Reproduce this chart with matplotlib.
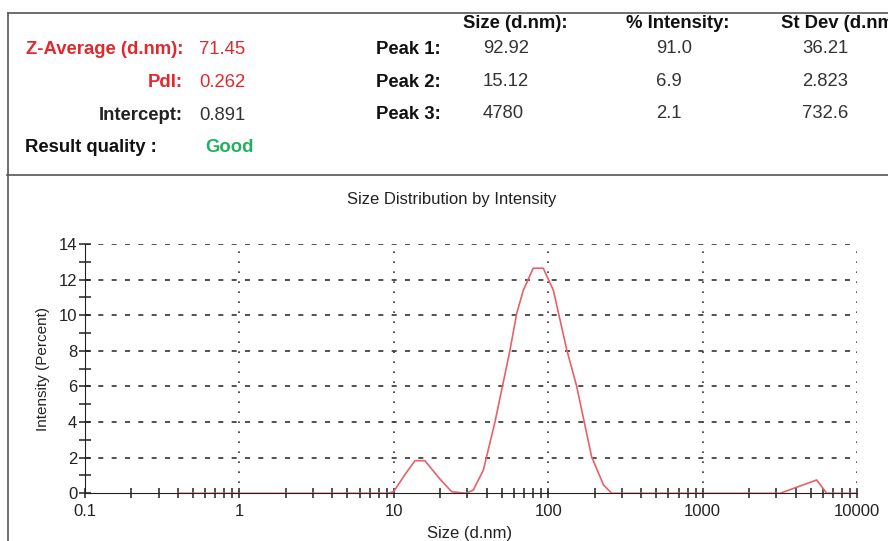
import matplotlib
matplotlib.use("Agg")
import matplotlib.pyplot as plt
from matplotlib.lines import Line2D
from matplotlib.ticker import LogLocator, FixedLocator, NullFormatter, FixedFormatter

plt.rcParams['font.family'] = ['Liberation Sans', 'DejaVu Sans']

# ---- data ----
size_nm = [0.4, 9.16, 9.97, 11.7, 13.7, 15.9, 19.9, 23.7, 29.4, 32.7, 38.0, 45.2,
           56.6, 62.5, 69.0, 80.0, 92.9, 108, 132, 153, 191, 228, 258,
           3177, 5480, 6360, 10000]
intensity = [0, 0, 0.09, 1.0, 1.83, 1.83, 0.8, 0.09, 0.0, 0.18, 1.3, 4.0,
             8.05, 10.1, 11.4, 12.64, 12.64, 11.4, 8.05, 6.0, 2.06, 0.47, 0,
             0, 0.75, 0, 0]

x_ticks = [0.1, 1, 10, 100, 1000, 10000]
x_tick_labels = ["0.1", "1", "10", "100", "1000", "10000"]
y_ticks = [0, 2, 4, 6, 8, 10, 12, 14]

peak_names = ["Peak 1:", "Peak 2:", "Peak 3:"]
peak_size = ["92.92", "15.12", "4780"]
peak_int = ["91.0", "6.9", "2.1"]
peak_sd = ["36.21", "2.823", "732.6"]
z_average = "71.45"
pdi = "0.262"
intercept = "0.891"
quality = "Good"

W, H = 888, 541
fig = plt.figure(figsize=(W / 100, H / 100), dpi=100)


def P(x, y):
    return (x / W, 1 - y / H)


RED = "#e0282e"
CURVE = "#e8606a"
fs = 13.3

# frame lines
frame_col = "#555555"
fig.add_artist(Line2D([8 / W, 1], [1 - 12.7 / H] * 2, color=frame_col, lw=1.2))
fig.add_artist(Line2D([8 / W] * 2, [1 - 12.7 / H, 0], color=frame_col, lw=1.2))
fig.add_artist(Line2D([7 / W, 1], [1 - 175 / H] * 2, color=frame_col, lw=1.2))

# left block
fig.text(*P(183, 54), "Z-Average (d.nm):", color=RED, fontsize=fs, fontweight="bold", ha="right", va="baseline")
fig.text(*P(199, 54), z_average, color=RED, fontsize=fs, ha="left", va="baseline")
fig.text(*P(183, 87), "PdI:", color=RED, fontsize=fs, fontweight="bold", ha="right", va="baseline")
fig.text(*P(199, 87), pdi, color=RED, fontsize=fs, ha="left", va="baseline")
fig.text(*P(183, 120), "Intercept:", color="#222222", fontsize=fs, fontweight="bold", ha="right", va="baseline")
fig.text(*P(199, 120), intercept, color="#333333", fontsize=fs, ha="left", va="baseline")
fig.text(*P(25, 152), "Result quality :", color="#111111", fontsize=fs, fontweight="bold", ha="left", va="baseline")
fig.text(*P(205, 152), quality, color="#22b060", fontsize=fs, fontweight="bold", ha="left", va="baseline")

# peak table
fig.text(*P(463, 28), "Size (d.nm):", color="#111111", fontsize=fs, fontweight="bold", ha="left", va="baseline")
fig.text(*P(626, 28), "% Intensity:", color="#111111", fontsize=fs, fontweight="bold", ha="left", va="baseline")
fig.text(*P(781, 28), "St Dev (d.nm):", color="#111111", fontsize=fs, fontweight="bold", ha="left", va="baseline")
rows_y = [54, 87, 119]
for i, ry in enumerate(rows_y):
    fig.text(*P(441, ry), peak_names[i], color="#111111", fontsize=fs, fontweight="bold", ha="right", va="baseline")
    fig.text(*P(483, ry - 1), peak_size[i], color="#333333", fontsize=fs, ha="left", va="baseline")
    fig.text(*P(656, ry - 1), peak_int[i], color="#333333", fontsize=fs, ha="left", va="baseline")
    fig.text(*P(802, ry - 1), peak_sd[i], color="#333333", fontsize=fs, ha="left", va="baseline")

# chart title
fig.text(*P(452, 204), "Size Distribution by Intensity", color="#222222", fontsize=12, ha="center", va="baseline")

# axes
left, right = 85, 857
top, bottom = 244, 493.3
ax = fig.add_axes([left / W, (H - bottom) / H, (right - left) / W, (bottom - top) / H])
ax.set_xscale("log")
ax.set_xlim(0.1, 10000)
ax.set_ylim(0, 14)

for s in ["top", "right"]:
    ax.spines[s].set_visible(False)
ax.spines["left"].set_color("#222222")
ax.spines["bottom"].set_color("#222222")
ax.patch.set_alpha(0)

# grid lines
for yv in y_ticks[1:]:
    ax.plot([0.1, 10000], [yv, yv], color="#333333", lw=1.2, ls=(0, (3, 5)), zorder=1)
for xv in x_ticks[1:]:
    ax.plot([xv, xv], [0, 14], color="#333333", lw=1.2, ls=(0, (1, 5)), zorder=1)

ax.plot(size_nm, intensity, color=CURVE, lw=1.2, zorder=3)

ax.xaxis.set_major_locator(FixedLocator(x_ticks))
ax.xaxis.set_major_formatter(FixedFormatter(x_tick_labels))
ax.xaxis.set_minor_locator(LogLocator(base=10, subs=range(2, 10)))
ax.xaxis.set_minor_formatter(NullFormatter())
ax.set_yticks(y_ticks)
ax.set_yticks(range(1, 14, 2), minor=True)

ax.tick_params(axis="x", which="both", direction="inout", length=7, width=1.1, colors="#222222",
               labelsize=12, pad=4)
ax.tick_params(axis="y", which="both", direction="inout", length=9, width=1.1, colors="#222222",
               labelsize=12, pad=1)
ax.tick_params(axis="both", labelcolor="#222222")

ax.set_ylabel("Intensity (Percent)", fontsize=11, color="#222222", labelpad=6)
fig.text(*P(470, 538), "Size (d.nm)", color="#222222", fontsize=12, ha="center", va="baseline")

fig.savefig("out.png", dpi=100)
